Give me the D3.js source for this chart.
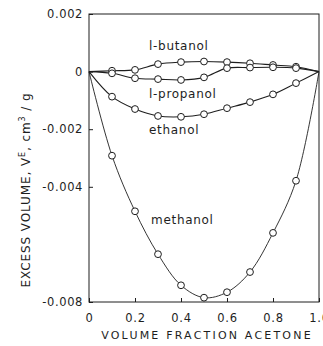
<!DOCTYPE html>
<html><head><meta charset="utf-8">
<script src="https://cdn.jsdelivr.net/npm/d3@7"></script>
<style>body{margin:0;background:#fff}svg{display:block}</style>
</head><body>
<svg id="c" width="323" height="346"></svg>
<script>
const fractions = [0, 0.1, 0.2, 0.3, 0.4, 0.5, 0.6, 0.7, 0.8, 0.9, 1.0];
const butanol  = [0, 0.00003, 0.00006, 0.00026, 0.00033, 0.00035, 0.00033, 0.00029, 0.00023, 0.00017, 0];
const propanol = [0, -0.00006, -0.00023, -0.00026, -0.00029, -0.0002, 0.00012, 0.00014, 0.00015, 0.00012, 0];
const ethanol  = [0, -0.00087, -0.0013, -0.00154, -0.00157, -0.00148, -0.00127, -0.00106, -0.00079, -0.0004, 0];
const methanol = [0, -0.00292, -0.00485, -0.00634, -0.00742, -0.00785, -0.00766, -0.00696, -0.0056, -0.00379, 0];
const seriesNames = ["1-butanol", "1-propanol", "ethanol", "methanol"];
const xTicks = [0, 0.2, 0.4, 0.6, 0.8, 1.0];
const xTickLabels = ["0", "0.2", "0.4", "0.6", "0.8", "1.0"];
const yTicks = [0.002, 0, -0.002, -0.004, -0.008];
const yTickLabels = ["0.002", "0", "-0.002", "-0.004", "-0.008"];

const svg = d3.select("#c");
const font = "'DejaVu Sans', sans-serif";
const ink = "#1e1e1e";
const x = d3.scaleLinear().domain([0, 1]).range([89, 319]);
const y = d3.scaleLinear().domain([-0.008, 0.002]).range([302, 14]);

// frame
svg.append("rect").attr("x", x(0)).attr("y", y(0.002))
  .attr("width", x(1) - x(0)).attr("height", y(-0.008) - y(0.002))
  .attr("fill", "none").attr("stroke", ink).attr("stroke-width", 1);

// axes
const yAxis = d3.axisLeft(y).tickValues(yTicks).tickSize(-4).tickPadding(6)
  .tickFormat((d, i) => yTickLabels[i]);
const gy = svg.append("g").attr("transform", `translate(${x(0)},0)`).call(yAxis);
const xAxis = d3.axisBottom(x).tickValues(xTicks).tickSize(-4).tickPadding(12)
  .tickFormat((d, i) => xTickLabels[i]);
const gx = svg.append("g").attr("transform", `translate(0,${y(-0.008)})`).call(xAxis);
[gx, gy].forEach(g => {
  g.select(".domain").remove();
  g.selectAll("line").attr("stroke", ink);
  g.selectAll("text").attr("font-family", font).attr("font-size", 11.5).attr("fill", ink);
});
gy.selectAll("text").attr("letter-spacing", 0.6);
gx.selectAll("text").attr("letter-spacing", 0.8);

// axis titles
svg.append("text").attr("x", (x(0) + x(1)) / 2 + 3).attr("y", 339)
  .attr("text-anchor", "middle").attr("font-family", font).attr("font-size", 11)
  .attr("letter-spacing", 2.2).attr("fill", ink).text("VOLUME FRACTION ACETONE");
const yt = svg.append("text").attr("transform", "translate(30,190) rotate(-90)")
  .attr("text-anchor", "middle").attr("font-family", font).attr("font-size", 12)
  .attr("letter-spacing", 0.9).attr("fill", ink);
yt.append("tspan").text("EXCESS VOLUME, V");
yt.append("tspan").attr("dy", -5).attr("font-size", 8).text("E");
yt.append("tspan").attr("dy", 5).text(", cm");
yt.append("tspan").attr("dy", -5).attr("font-size", 8).text("3");
yt.append("tspan").attr("dy", 5).text(" / g");

// series
const allSeries = [butanol, propanol, ethanol, methanol];
const line = d3.line().x((d, i) => x(fractions[i])).y(d => y(d)).curve(d3.curveCatmullRom.alpha(0.5));
allSeries.forEach((s, k) => {
  svg.append("path").attr("d", line(s)).attr("fill", "none")
    .attr("stroke", ink).attr("stroke-width", k === 3 ? 0.9 : 1.1);
});
allSeries.forEach(s => {
  svg.append("g").selectAll("circle").data(s.slice(1, -1)).join("circle")
    .attr("cx", (d, i) => x(fractions[i + 1])).attr("cy", d => y(d)).attr("r", 3.4)
    .attr("fill", "#fff").attr("stroke", ink).attr("stroke-width", 1);
});

// labels
const labelPos = [[149, 50], [149, 98], [149, 134], [151, 224]];
seriesNames.forEach((n, i) => {
  svg.append("text").attr("x", labelPos[i][0]).attr("y", labelPos[i][1])
    .attr("font-family", font).attr("font-size", 12).attr("letter-spacing", 0.7)
    .attr("fill", ink).text(n.replace("1-", "l-"));
});
</script>
</body></html>
